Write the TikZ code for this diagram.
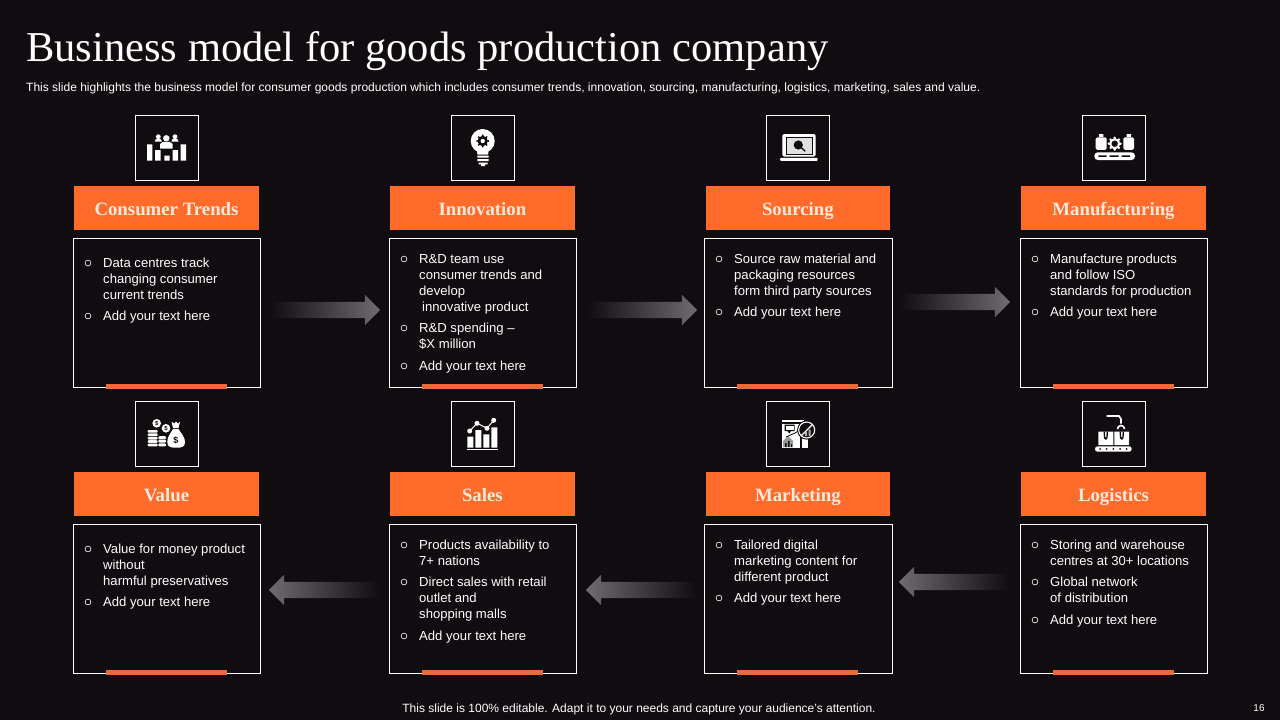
\documentclass[tikz,border=0pt]{standalone}
\usepackage{fontspec}
\setmainfont{Liberation Sans}
\newfontfamily\seriffam{Liberation Serif}
\usetikzlibrary{shapes.arrows}
\definecolor{bg}{HTML}{100C10}
\definecolor{hdr}{HTML}{FF6B2B}
\definecolor{barc}{HTML}{EA6A3A}
\definecolor{cream}{HTML}{FBE9DC}
\definecolor{arr}{HTML}{6E6C6E}
\tikzset{
  framebox/.style={draw=white,line width=1pt,fill=bg,inner sep=0},
  hdrbox/.style={fill=hdr,inner sep=0,text=cream,text height=14pt,text depth=0pt,font=\seriffam\bfseries\fontsize{18.8}{20}\selectfont},
  barbox/.style={fill=barc,inner sep=0},
  itemtext/.style={text=white,anchor=north west,inner sep=0,align=left,font=\fontsize{13.1}{16}\selectfont},
  bulletdot/.style={circle,draw=white,line width=.6pt,inner sep=0,minimum size=5.8pt},
  flowarrow/.style={single arrow,single arrow head extend=7pt,minimum width=30pt,minimum height=110pt,inner sep=0,draw=none,text height=16pt,text depth=0pt},
  ink/.style={fill=white,draw=none},
  cut/.style={fill=bg,draw=none},
}
% card: name, x offset, y offset, title
\newcommand{\card}[4]{%
  \node[framebox,minimum width=63pt,minimum height=65.5pt] (icon#1) at (166.7+#2,148+#3) {};
  \node[hdrbox,minimum width=184.6pt,minimum height=44pt] (head#1) at (166.5+#2,208+#3) {#4};
  \node[framebox,minimum width=187.4pt,minimum height=149.6pt] (body#1) at (167+#2,313+#3) {};
  \node[barbox,minimum width=121pt,minimum height=4.7pt] (bar#1) at (166.5+#2,386.5+#3) {};
}
% entry: name, bullet x, centre y of first line, text
\newcommand{\entry}[4]{%
  \node[bulletdot] (dot#1) at (#2,#3+1) {};
  \node[itemtext] (txt#1) at (#2+15,#3-5.7) {\strut #4};
}
\begin{document}
\begin{tikzpicture}[x=1pt,y=-1pt]
\useasboundingbox (0,0) rectangle (1280,720);
\fill[bg] (0,0) rectangle (1280,720);
\node[anchor=base west,inner sep=0,text=white,font=\seriffam\fontsize{42.55}{46}\selectfont] (title) at (26,61) {Business model for goods production company};
\node[anchor=base west,inner sep=0,text=white,font=\fontsize{12.02}{14}\selectfont] (sub) at (26,91) {This slide highlights the business model for consumer goods production which includes consumer trends, innovation, sourcing, manufacturing, logistics, marketing, sales and value.};
\card{A}{0}{0}{Consumer Trends}
\card{B}{315.9}{0}{Innovation}
\card{C}{631.4}{0}{Sourcing}
\card{D}{947}{0}{Manufacturing}
\card{E}{0}{286}{Value}
\card{F}{315.9}{286}{Sales}
\card{G}{631.4}{286}{Marketing}
\card{H}{947}{286}{Logistics}
% arrows
\node[flowarrow,left color=bg,right color=arr] (arrA) at (321,310) {};
\node[flowarrow,left color=bg,right color=arr] (arrB) at (638,310) {};
\node[flowarrow,left color=bg,right color=arr] (arrC) at (951,302) {};
\node[flowarrow,shape border rotate=180,left color=arr,right color=bg] (arrD) at (328,590) {};
\node[flowarrow,shape border rotate=180,left color=arr,right color=bg] (arrE) at (645,590) {};
\node[flowarrow,shape border rotate=180,left color=arr,right color=bg] (arrF) at (958,582) {};
% entries
\entry{Aa}{88}{262}{Data centres track\\changing consumer\\current trends}
\entry{Ab}{88}{315}{Add your text here}
\entry{Ba}{404}{258}{R\&D team use\\consumer trends and\\develop\\\hspace{3pt}innovative product}
\entry{Bb}{404}{327}{R\&D spending –\\\$X million}
\entry{Bc}{404}{365}{Add your text here}
\entry{Ca}{719}{258}{Source raw material and\\packaging resources\\form third party sources}
\entry{Cb}{719}{311}{Add your text here}
\entry{Da}{1035}{258}{Manufacture products\\and follow ISO\\standards for production}
\entry{Db}{1035}{311}{Add your text here}
\entry{Ea}{88}{548}{Value for money product\\without\\harmful preservatives}
\entry{Eb}{88}{601}{Add your text here}
\entry{Fa}{404}{544}{Products availability to\\7+ nations}
\entry{Fb}{404}{581}{Direct sales with retail\\outlet and\\shopping malls}
\entry{Fc}{404}{635}{Add your text here}
\entry{Ga}{719}{544}{Tailored digital\\marketing content for\\different product}
\entry{Gb}{719}{597}{Add your text here}
\entry{Ha}{1035}{544}{Storing and warehouse\\centres at 30+ locations}
\entry{Hb}{1035}{581}{Global network\\of distribution}
\entry{Hc}{1035}{619}{Add your text here}
% footer
\node[anchor=base,inner sep=0,text=white,font=\fontsize{12}{14}\selectfont] (foot) at (639,712.5) {This slide is 100\% editable. Adapt it to your needs and capture your audience's attention.};
\node[anchor=base,inner sep=0,text=white,font=\fontsize{10}{12}\selectfont] (page) at (1259,711) {16};
% icon 1: people and bars
\fill[ink] (147,144.3) rectangle (152.3,160.7) (155,150) rectangle (160.5,160.7) (164.3,155.7) rectangle (169.7,160.7) (172.7,150) rectangle (178,160.7) (180.7,144.3) rectangle (186,160.7);
\fill[ink] (166.3,138.3) circle (3.2) (158.3,136.7) circle (2.4) (175,136.7) circle (2.4);
\fill[ink] (154.7,141.7) -- (156,138.8) -- (160.5,138.8) -- (162,141.7) -- cycle (171.3,141.7) -- (172.7,138.8) -- (177.2,138.8) -- (178.7,141.7) -- cycle;
\fill[ink] (160,148.5) -- (160,144) to[bend left=20] (163,141.8) -- (169.7,141.8) to[bend left=20] (172.7,144) -- (172.7,148.5) -- cycle;
% icon 2: bulb
\fill[ink] (482.7,141) circle (12);
\fill[ink] (476,146) -- (489.4,146) -- (488,154.5) -- (477.5,154.5) -- cycle;
\fill[ink] (477.3,155.5) rectangle (488.7,157.5) (477.3,159) rectangle (488.7,161) (478.5,162.5) rectangle (487.5,164.3) (481,164.3) rectangle (485,166);
\foreach \a in {0,45,...,315}{\fill[cut] (482.7,141) ++(\a:5.6) circle (1);}
\fill[cut] (482.7,141) circle (5.2);
\fill[ink] (482.7,141) circle (2.2);
% icon 3: laptop
\fill[ink,rounded corners=1.5pt] (782.3,134) rectangle (815.7,156.5);
\draw[bg,line width=.8pt,fill=white!88!black] (786,137.5) rectangle (812.3,154);
\draw[bg,line width=1.4pt,line cap=round] (798.3,145) -- (805,151);
\fill[cut] (798.3,145) circle (4.6);
\fill[ink,rounded corners=1pt] (780,157.8) rectangle (817.7,160.8);
% icon 4: manufacturing
\fill[ink,rounded corners=3.5pt] (1094.3,152.3) rectangle (1135,160);
\fill[cut] (1098.3,155.4) rectangle (1106.7,156.8) (1109.5,155.4) rectangle (1118.5,156.8) (1121.7,155.4) rectangle (1130,156.8);
\fill[ink,rounded corners=1.5pt] (1095.7,137.3) rectangle (1106.7,149.8) (1123.3,137.3) rectangle (1134,149.8);
\fill[ink] (1099,134) rectangle (1103.3,136.8) (1126.5,134) rectangle (1131,136.8);
\foreach \a in {0,45,...,315}{\fill[ink] (1114.7,143.7) ++(\a:5.8) circle (1.4);}
\fill[ink] (1114.7,143.7) circle (5.6);
\fill[cut] (1114.7,143.7) circle (3.2);
% icon 5: money
\foreach \yy in {430,433.4,436.8,440.2,443.6}{\fill[ink,rounded corners=1pt] (147.7,\yy) rectangle (157.7,\yy+2.7);}
\foreach \yy in {436.2,439.6,443.4}{\fill[ink,rounded corners=1pt] (158.3,\yy) rectangle (166,\yy+2.9);}
\fill[ink] (156.7,423.3) circle (4.3) (166,428.3) circle (4.3);
\node[inner sep=0,text=bg,font=\bfseries\fontsize{6}{6}\selectfont] (coin1) at (156.7,423.3) {\$};
\node[inner sep=0,text=bg,font=\bfseries\fontsize{6}{6}\selectfont] (coin2) at (166,428.3) {\$};
\fill[ink] (171.5,421.7) -- (174,423.5) -- (176,421.7) -- (178,423.5) -- (180,421.7) -- (178.5,428) -- (173,428) -- cycle;
\fill[ink] (173,429) .. controls (170,434) and (167.3,437) .. (167.3,442) .. controls (167.3,446) and (170,447.7) .. (173,447.7) -- (179.5,447.7) .. controls (182.5,447.7) and (185,446) .. (185,442) .. controls (185,437) and (181.5,434) .. (178.5,429) -- cycle;
\node[inner sep=0,text=bg,font=\bfseries\fontsize{9}{9}\selectfont] (bagmark) at (176,440.5) {\$};
% icon 6: chart
\fill[ink] (467.3,436.7) rectangle (473.3,447.7) (475.3,430) rectangle (481.3,447.7) (483.3,434.3) rectangle (489.3,447.7) (491.3,427.3) rectangle (497.3,447.7);
\draw[bg,line width=2.6pt] (469.7,431) -- (477,423.3) -- (487,428.3) -- (493.7,420.3);
\draw[white,line width=1pt] (469.7,431) -- (477,423.3) -- (487,428.3) -- (493.7,420.3);
\fill[ink] (469.7,431) circle (2.5) (477,423.3) circle (2.5) (487,428.3) circle (2.5) (493.7,420.3) circle (2.5);
\fill[ink] (467,448.6) rectangle (497.5,450);
% icon 7: marketing
\fill[ink] (781.7,420) rectangle (804,422);
\fill[ink] (781.7,423.5) rectangle (800,447.7);
\fill[ink] (802,437) rectangle (808,447.7);
\fill[cut] (784.5,424.5) rectangle (794.5,431) (787.5,431) -- (791,431) -- (789.2,433.5) -- cycle;
\fill[ink] (785.5,425.5) rectangle (793.5,430);
\fill[white!60!black] (783,447) -- (783,441) -- (788,436) -- (793,441) -- (793,447) -- cycle;
\fill[cut] (785,447) rectangle (786.5,443) (788,447) rectangle (789.5,441) (791,447) rectangle (792,444);
\draw[bg,line width=.8pt] (786,437) -- (795,433) -- (800,430);
\fill[cut] (806.7,430) circle (9.6);
\draw[white,line width=1.1pt] (806.7,430) circle (8);
\draw[white,line width=1.1pt] (801,436) -- (812.5,424.5);
\fill[white!70!black] (805,436) rectangle (807,431.5) (808.5,436) rectangle (810.5,429.5);
% icon 8: logistics
\draw[white,line width=1.6pt] (1106.7,416) -- (1119,416) to[bend left=30] (1121,419) -- (1121,423.5);
\draw[white,line width=1.6pt] (1117.5,429) arc[start angle=180,end angle=360,radius=3.5];
\fill[ink] (1098.3,431.7) rectangle (1113.3,445) (1114.3,431.7) rectangle (1129,445);
\fill[cut] (1103.5,431.7) -- (1104,438) -- (1105.8,440) -- (1107.6,438) -- (1108,431.7) -- (1106.6,431.7) -- (1106.4,437) -- (1105.8,437.6) -- (1105,437) -- (1105,431.7) -- cycle;
\fill[cut] (1119.5,431.7) -- (1120,438) -- (1121.8,440) -- (1123.6,438) -- (1124,431.7) -- (1122.6,431.7) -- (1122.4,437) -- (1121.8,437.6) -- (1121,437) -- (1121,431.7) -- cycle;
\fill[ink,rounded corners=2.6pt] (1095,446.3) rectangle (1131.7,451.7);
\foreach \xx in {1100,1106.5,1113.3,1120,1126.7}{\fill[cut] (\xx,449) circle (1);}
\end{tikzpicture}
\end{document}
